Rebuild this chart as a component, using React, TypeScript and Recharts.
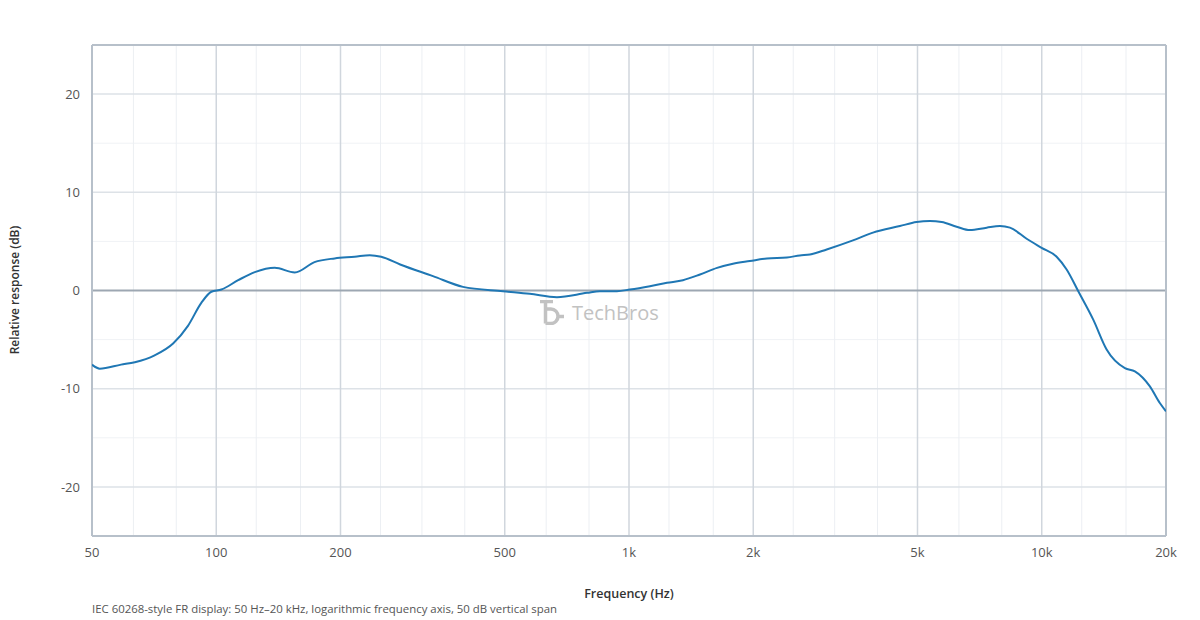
import React from 'react';
import { LineChart, Line, XAxis, YAxis, ReferenceLine } from 'recharts';

const freqHz = [
  50, 52.2, 58.8, 63.5, 70.9, 78.6, 85.4, 92, 97.3, 102.9, 113, 124, 138.6, 155, 173, 193.6, 216.5,
  235.5, 251, 279, 335, 396, 495, 575, 669, 791, 850, 935, 1005, 1124, 1236, 1351, 1486, 1634,
  1786, 1963, 2159, 2414, 2594, 2744, 3013, 3488, 3900, 4533, 4975, 5359, 5721, 6219, 6698, 7354,
  7920, 8374, 9192, 9993, 10866, 11489, 12260, 13328, 14360, 15902, 16814, 18280, 19323, 20000,
];
const responseDb = [
  -7.55, -7.96, -7.55, -7.3, -6.6, -5.4, -3.6, -1.26, -0.13, 0.1, 1.05, 1.87, 2.31, 1.84, 2.89, 3.27, 3.44,
  3.6, 3.44, 2.65, 1.46, 0.37, -0.07, -0.34, -0.68, -0.24, -0.07, -0.07, 0.1, 0.44, 0.78, 1.05, 1.63, 2.3,
  2.72, 3.0, 3.27, 3.37, 3.57, 3.67, 4.18, 5.1, 5.89, 6.56, 6.97, 7.07, 6.97, 6.5, 6.15, 6.4,
  6.56, 6.4, 5.27, 4.35, 3.44, 2.14, -0.07, -2.96, -6.0, -7.9, -8.23, -9.76, -11.46, -12.3,
];

const xTicks = [50, 100, 200, 500, 1000, 2000, 5000, 10000, 20000];
const yTicks = [-20, -10, 0, 10, 20];
// third-octave grid
const majorFreqs = [100, 200, 500, 1000, 2000, 5000, 10000];
const minorFreqs = [63, 80, 125, 160, 250, 315, 400, 630, 800, 1250, 1600, 2500, 3150, 4000, 6300, 8000, 12500, 16000];
const majorDb = [-20, -10, 10, 20];
const minorDb = [-15, -5, 5, 15];

const data = freqHz.map((f, i) => ({ f, db: responseDb[i] }));

const FONT = '"Open Sans", "Noto Sans", sans-serif';
const fmtHz = (v: number) => (v >= 1000 ? `${v / 1000}k` : `${v}`);

export default function App() {
  return (
    <div style={{ position: 'absolute', left: 0, top: 0, width: 1200, height: 620, background: '#fff', fontFamily: FONT }}>
      <LineChart width={1200} height={620} data={data} margin={{ top: 45, right: 34, left: 32, bottom: 54 }}>
        <XAxis
          dataKey="f"
          type="number"
          scale="log"
          domain={[50, 20000]}
          allowDataOverflow
          ticks={xTicks}
          tickFormatter={fmtHz}
          axisLine={false}
          tickLine={false}
          tickMargin={6}
          height={30}
          tick={{ fill: '#555', fontSize: 13, fontFamily: FONT }}
        />
        <YAxis
          type="number"
          domain={[-25, 25]}
          ticks={yTicks}
          axisLine={false}
          tickLine={false}
          tickMargin={6}
          width={60}
          tick={{ fill: '#555', fontSize: 13, fontFamily: FONT }}
        />

        {minorDb.map((v) => (
          <ReferenceLine key={`hm${v}`} y={v} stroke="#f0f2f5" strokeWidth={1} />
        ))}
        {minorFreqs.map((v) => (
          <ReferenceLine key={`vm${v}`} x={v} stroke="#eceff3" strokeWidth={1} />
        ))}
        {majorDb.map((v) => (
          <ReferenceLine key={`hM${v}`} y={v} stroke="#dde2e7" strokeWidth={1.5} />
        ))}
        {majorFreqs.map((v) => (
          <ReferenceLine key={`vM${v}`} x={v} stroke="#d0d6dd" strokeWidth={1.5} />
        ))}
        <ReferenceLine y={0} stroke="#9da7b2" strokeWidth={2} />

        {/* plot frame */}
        <ReferenceLine x={50} stroke="#b7c0ca" strokeWidth={2} />
        <ReferenceLine x={20000} stroke="#b7c0ca" strokeWidth={2} />
        <ReferenceLine y={25} stroke="#b7c0ca" strokeWidth={2} />
        <ReferenceLine y={-25} stroke="#b7c0ca" strokeWidth={2} />

        <Line
          type="monotone"
          dataKey="db"
          stroke="#1f77b4"
          strokeWidth={2}
          dot={false}
          activeDot={false}
          isAnimationActive={false}
        />
      </LineChart>

      {/* watermark */}
      <div style={{ position: 'absolute', left: 540, top: 299, display: 'flex', alignItems: 'center', gap: 7, pointerEvents: 'none' }}>
        <svg width={25} height={25} viewBox="0 0 25 25">
          <path d="M0 1.5 H13 M5.5 1.5 V23.5 M5.5 9 H11 A7 7.25 0 0 1 11 23.5 H5.5 M17 16.5 H24" fill="none" stroke="#c2c2c2" strokeWidth={3.5} />
        </svg>
        <span style={{ fontSize: 20, color: '#c2c2c2', fontFamily: FONT }}>TechBros</span>
      </div>

      <div
        style={{
          position: 'absolute',
          left: 14,
          top: 290,
          transform: 'translate(-50%, -50%) rotate(-90deg)',
          whiteSpace: 'nowrap',
          fontSize: 12,
          fontWeight: 600,
          color: '#333',
        }}
      >
        Relative response (dB)
      </div>
      <div
        style={{
          position: 'absolute',
          left: 629,
          top: 593,
          transform: 'translate(-50%, -50%)',
          whiteSpace: 'nowrap',
          fontSize: 12.5,
          fontWeight: 600,
          color: '#333',
        }}
      >
        Frequency (Hz)
      </div>
      <div style={{ position: 'absolute', left: 92, top: 601, whiteSpace: 'nowrap', fontSize: 11.4, color: '#555' }}>
        IEC 60268-style FR display: 50 Hz–20 kHz, logarithmic frequency axis, 50 dB vertical span
      </div>
    </div>
  );
}
